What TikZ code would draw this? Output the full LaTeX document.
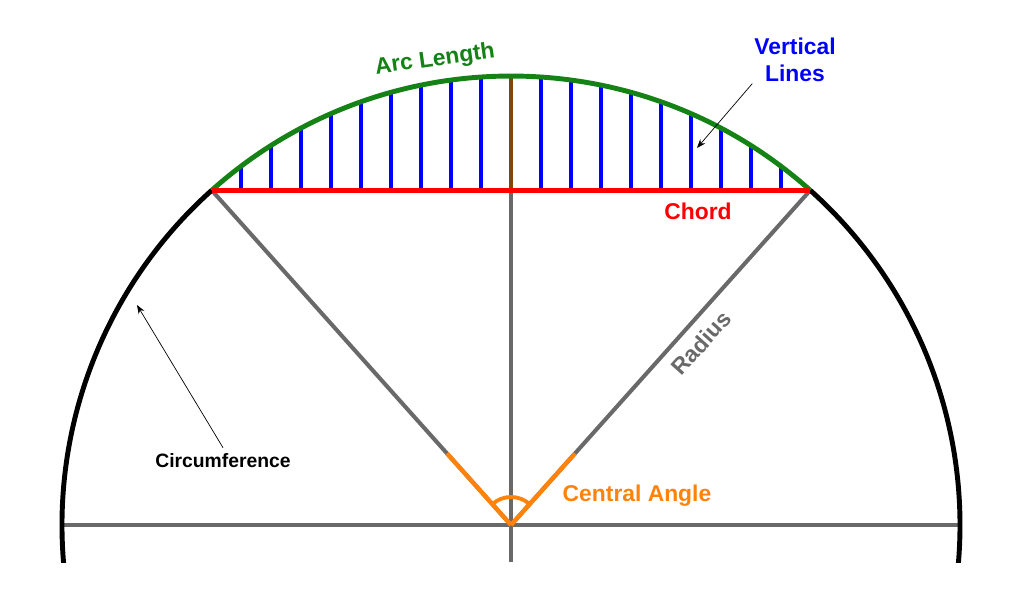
\documentclass[tikz,border=0pt]{standalone}
\usepackage{fontspec}
\setmainfont{Liberation Sans}
\usetikzlibrary{arrows.meta}

\definecolor{arcgreen}{RGB}{20,130,20}
\definecolor{linegray}{RGB}{105,105,105}
\definecolor{angleorange}{RGB}{255,130,10}
\definecolor{midbrown}{RGB}{130,70,10}

\begin{document}
\begin{tikzpicture}[x=0.2cm, y=0.2cm, font=\bfseries, align=center,
  note/.style={-{Stealth[length=5pt]}, thin, black},
  biglbl/.style={font=\fontsize{13}{15}\selectfont\bfseries}]
  \useasboundingbox (-51.1,-8.9) rectangle (50.9,52.5);
  \coordinate (O) at (0,0);
  \coordinate (L) at (131.8:44.9);
  \coordinate (R) at (48.2:44.9);
  % vertical lines
  \foreach \x in {-27,-24,...,27}
    \draw[blue, line width=2.5pt] (\x,33.5) -- (\x,{sqrt(2016-\x*\x)});
  \draw[midbrown, line width=2.5pt] (0,33.5) -- (0,44.9);
  % axes and radii
  \draw[linegray, line width=2.3pt] (-44.9,0) -- (44.9,0);
  \draw[linegray, line width=2.3pt] (0,-3.7) -- (0,33.5);
  \draw[linegray, line width=2.3pt] (O) -- (L);
  \draw[linegray, line width=2.3pt] (O) -- (R);
  % circumference
  \begin{scope}
    \clip (-51,-3.7) rectangle (51,52);
    \draw[black, line width=2.8pt] (O) ++(131.8:44.9) arc (131.8:190:44.9);
    \draw[black, line width=2.8pt] (O) ++(48.2:44.9) arc (48.2:-10:44.9);
  \end{scope}
  \draw[arcgreen, line width=2.8pt] (R) arc (48.2:131.8:44.9);
  \draw[red, line width=2.8pt] (L) -- (R);
  % central angle
  \draw[angleorange, line width=2.5pt] (O) -- (48.2:9.6);
  \draw[angleorange, line width=2.5pt] (O) -- (131.8:9.6);
  \draw[angleorange, line width=2.2pt] (48.2:2.8) arc (48.2:131.8:2.8);
  % labels
  \node[arcgreen, rotate=8, biglbl] (arclbl) at (-7.6,46.5) {Arc Length};
  \node[blue, biglbl, inner sep=1pt] (vertlbl) at (28.4,46.5) {Vertical\\Lines};
  \node[red, biglbl] (chordlbl) at (18.7,31.4) {Chord};
  \node[linegray, rotate=48, biglbl] (radlbl) at (19.0,18.2) {Radius};
  \node[angleorange, biglbl] (anglbl) at (12.6,2.9) {Central Angle};
  \node[black, font=\fontsize{11}{13}\selectfont\bfseries] (circlbl) at (-28.8,6.4) {Circumference};
  \coordinate (vertend) at (18.6,37.7);
  \coordinate (circend) at (-37.4,22.0);
  \draw[note] (vertlbl.south west) -- (vertend);
  \draw[note] (circlbl.north) -- (circend);
\end{tikzpicture}
\end{document}
